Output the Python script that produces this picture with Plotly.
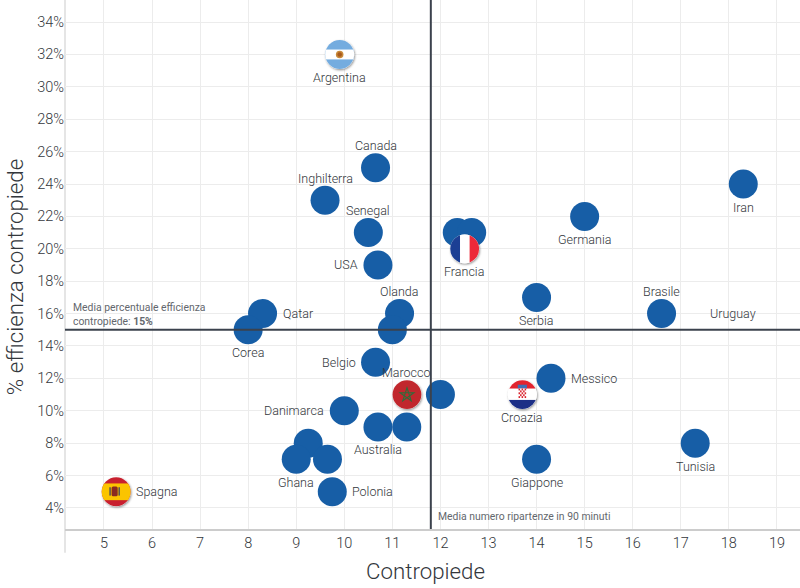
import base64
import plotly.graph_objects as go

# Teams, counterattacks and counterattack efficiency (%)
teams = ["Argentina", "Canada", "Inghilterra", "Senegal", "USA", "Olanda", "", "Belgio", "Marocco", "",
         "Danimarca", "Australia", "", "", "Ghana", "", "Polonia", "Spagna", "Qatar", "Corea",
         "", "", "Francia", "Serbia", "Germania", "Iran", "Brasile", "Messico", "Croazia", "Tunisia", "Giappone"]
contropiede = [9.9, 10.65, 9.6, 10.5, 10.7, 11.15, 11, 10.65, 11.3, 12,
               10, 10.7, 11.3, 9.25, 9, 9.65, 9.75, 5.25, 8.3, 8,
               12.35, 12.65, 12.5, 14, 15, 18.3, 16.6, 14.3, 13.7, 17.3, 14]
efficienza = [32, 25, 23, 21, 19, 16, 15, 13, 11, 11,
              10, 9, 9, 8, 7, 7, 5, 5, 16, 15,
              21, 21, 20, 17, 22, 24, 16, 12, 11, 8, 7]
label_side = ["below", "above", "above", "above", "left", "above", "", "left", "above", "",
              "left", "below", "", "", "below", "", "right", "right", "right", "below",
              "", "", "below", "below", "below", "below", "above", "right", "below", "below", "below"]

# Uruguay has a label but no marker in the original
uruguay_x = 17.2
uruguay_y = 16

media_contropiede = 11.8
media_efficienza = 15

x_ticks = list(range(5, 20))
y_ticks = list(range(4, 35, 2))
y_labels = [f"{v}%" for v in y_ticks]

BLUE = "#175ea6"
TEXT = "#33373c"
GRID = "#ececec"
LINE = "#3b424d"
FONT = "Roboto"


def flag_svg(body):
    svg = ('<svg xmlns="http://www.w3.org/2000/svg" width="200" height="200" viewBox="0 0 100 100">'
           '<defs><clipPath id="c"><circle cx="48" cy="48" r="38"/></clipPath>'
           '<filter id="s" x="-30%" y="-30%" width="160%" height="160%">'
           '<feDropShadow dx="2" dy="3" stdDeviation="3" flood-color="#000" flood-opacity="0.45"/></filter></defs>'
           '<circle cx="48" cy="48" r="38" fill="#fff" filter="url(#s)"/>'
           f'<g clip-path="url(#c)">{body}</g></svg>')
    return "data:image/svg+xml;base64," + base64.b64encode(svg.encode()).decode()


def checker():
    cells = ""
    for i in range(5):
        for j in range(5):
            if (i + j) % 2 == 0:
                cells += f'<rect x="{38 + i * 4}" y="{32 + j * 5}" width="4" height="5" fill="#d9232e"/>'
    return cells


flags = {
    "Argentina": '<rect width="100" height="100" fill="#74acdf"/><rect y="35" width="100" height="26" fill="#fff"/>'
                 '<circle cx="48" cy="48" r="10" fill="#c98a3a"/><circle cx="48" cy="48" r="6" fill="#a85a1c"/>',
    "Marocco": '<rect width="100" height="100" fill="#c1272d"/>'
               '<path d="M48 30 L59 64 L30 43 L66 43 L37 64 Z" fill="none" stroke="#2f6b3a" stroke-width="3"/>',
    "Spagna": '<rect width="100" height="100" fill="#c8202f"/><rect y="26" width="100" height="44" fill="#fbc400"/>'
              '<rect x="36" y="34" width="16" height="26" rx="4" fill="#8a2a20"/>'
              '<rect x="30" y="36" width="4" height="22" fill="#555"/><rect x="54" y="36" width="4" height="22" fill="#555"/>',
    "Francia": '<rect width="36" height="100" fill="#1c3f94"/><rect x="36" width="25" height="100" fill="#fff"/>'
               '<rect x="61" width="39" height="100" fill="#ed2939"/>',
    "Croazia": '<rect width="100" height="100" fill="#fff"/><rect width="100" height="32" fill="#e2232e"/>'
               '<rect y="62" width="100" height="38" fill="#1c2f86"/>'
               '<rect x="36" y="22" width="24" height="10" fill="#3f6fb5"/>'
               '<rect x="38" y="32" width="20" height="25" fill="#fff"/>' + checker(),
}

label_font = dict(family=FONT, size=12.5, color=TEXT, weight=300)
note_font = dict(family=FONT, size=10.4, color="#63676d")
title_font = dict(family=FONT, size=22.3, color=TEXT, weight=300)
tick_font = dict(family=FONT, size=14.5, color=TEXT, weight=300)

# side -> xshift, yshift, xanchor for the team labels
label_offset = {
    "above": (0, 22, "center"),
    "below": (0, -23, "center"),
    "left": (-18, 0, "right"),
    "right": (18, 0, "left"),
}

fig = go.Figure()

# Plain blue bubbles only where there is no flag on top
fig.add_trace(go.Scatter(
    x=[x for t, x in zip(teams, contropiede) if t not in flags],
    y=[y for t, y in zip(teams, efficienza) if t not in flags],
    mode="markers",
    marker=dict(size=29, color=BLUE, opacity=1, line=dict(width=0)),
    showlegend=False,
))

for name, x, y, side in zip(teams, contropiede, efficienza, label_side):
    if name in flags:
        fig.add_layout_image(
            source=flag_svg(flags[name]),
            xref="x", yref="y",
            x=x + 0.02, y=y - 0.05,
            sizex=38 / 48.07, sizey=38 / 16.2,
            xanchor="center", yanchor="middle",
            sizing="stretch",
            layer="above",
        )
    if name:
        dx, dy, anchor = label_offset[side]
        fig.add_annotation(x=x, y=y, text=name, showarrow=False, xshift=dx, yshift=dy,
                           xanchor=anchor, yanchor="middle", font=label_font)

dx, dy, anchor = label_offset["right"]
fig.add_annotation(x=uruguay_x, y=uruguay_y, text="Uruguay", showarrow=False, xshift=dx, yshift=dy,
                   xanchor=anchor, yanchor="middle", font=label_font)

# Mean lines
fig.add_shape(type="line", xref="x", yref="paper", x0=media_contropiede, x1=media_contropiede, y0=0, y1=1,
              line=dict(color=LINE, width=2), layer="above")
fig.add_shape(type="line", xref="paper", yref="y", x0=0, x1=1, y0=media_efficienza, y1=media_efficienza,
              line=dict(color=LINE, width=2), layer="above")
# Left axis line runs below the plot
fig.add_shape(type="line", xref="paper", yref="paper", x0=0, x1=0, y0=-0.045, y1=1,
              line=dict(color="#dddddd", width=1.5), layer="below")

fig.add_annotation(xref="paper", yref="y", x=0.008, y=media_efficienza, xanchor="left", yanchor="bottom",
                   align="left", showarrow=False,
                   text="Media percentuale efficienza<br>contropiede: <b>15%</b>", font=note_font)
fig.add_annotation(xref="x", yref="paper", x=media_contropiede, y=0.0, xshift=5, yshift=4,
                   xanchor="left", yanchor="bottom", align="left", showarrow=False,
                   text="Media numero ripartenze in 90 minuti", font=note_font)

# Axis titles are off centre in the original, so they are placed by hand
fig.add_annotation(xref="paper", yref="paper", x=0.49, y=-0.079, text="Contropiede", showarrow=False,
                   xanchor="center", yanchor="middle", font=title_font)
fig.add_annotation(xref="paper", yref="paper", x=-0.068, y=0.476, text="% efficienza contropiede", showarrow=False,
                   textangle=-90, xanchor="center", yanchor="middle", font=title_font)

fig.update_xaxes(
    range=[4.19, 19.48],
    tickmode="array", tickvals=x_ticks,
    tickfont=tick_font,
    ticks="", showgrid=True, gridcolor=GRID, gridwidth=1.3, zeroline=False,
    showline=True, linecolor="#cccccc", linewidth=1.5,
)
fig.update_yaxes(
    range=[2.7, 35.36],
    tickmode="array", tickvals=y_ticks, ticktext=y_labels,
    tickfont=tick_font,
    ticks="", showgrid=True, gridcolor=GRID, gridwidth=1.3, zeroline=False,
)
fig.update_layout(
    width=800, height=588,
    margin=dict(l=65, r=0, t=0, b=59),
    paper_bgcolor="white", plot_bgcolor="white",
    showlegend=False,
)
# Drop the page margin so the figure fills the window
fig.write_html("out.html", config=dict(displayModeBar=False),
               post_script="document.body.style.margin='0';document.documentElement.style.overflow='hidden';")
